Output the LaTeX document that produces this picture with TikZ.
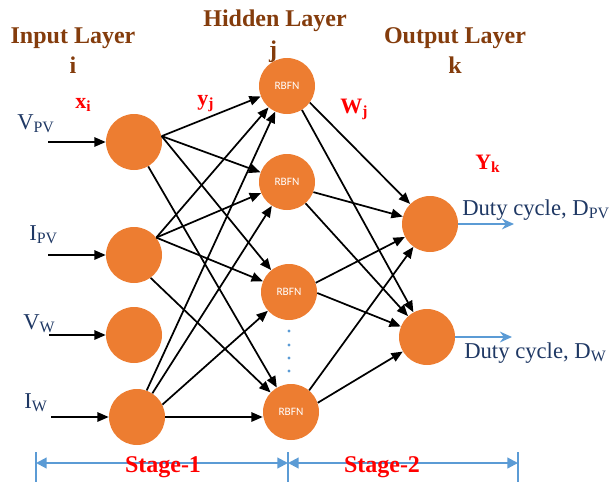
\documentclass[tikz,border=0pt]{standalone}
\usepackage{fontspec}
\setmainfont{Liberation Serif}
\newfontfamily\rbfnfont{Carlito}
\usetikzlibrary{arrows.meta}
\definecolor{norange}{HTML}{ED7D31}
\definecolor{tbrown}{HTML}{843C0C}
\definecolor{tnavy}{HTML}{1F3864}
\definecolor{lblue}{HTML}{5B9BD5}
\definecolor{lred}{HTML}{FF0000}
\begin{document}
\begin{tikzpicture}[x=0.75pt,y=-0.75pt,
  neuron/.style={circle,fill=norange,minimum size=42pt,inner sep=0pt},
  hid/.style={neuron,font=\rbfnfont\fontsize{8.5}{9}\selectfont,text=white},
  arr/.style={-{Triangle[length=8.5pt,width=7pt]},line width=1.3pt,black},
  barr/.style={-{Stealth[length=9pt,width=8pt]},line width=1.6pt,lblue},
  sarr/.style={{Triangle[length=8pt,width=8pt]}-{Triangle[length=8pt,width=8pt]},line width=1.6pt,lblue},
  tick/.style={line width=1.5pt,lblue},
  title/.style={font=\fontsize{18}{20}\selectfont\bfseries,text=tbrown,anchor=base,inner sep=0pt},
  redlab/.style={font=\fontsize{16.5}{18}\selectfont\bfseries,text=lred,anchor=base west,inner sep=0pt},
  navy/.style={font=\fontsize{17}{19}\selectfont,text=tnavy,anchor=base west,inner sep=0pt},
  stagelab/.style={font=\fontsize{18}{20}\selectfont\bfseries,text=lred,anchor=base,inner sep=0pt},
]
\useasboundingbox (0,0) rectangle (616,485);

% titles
\node[title] (tin) at (73,44) {Input Layer};
\node[title] (ti) at (73,73) {i};
\node[title] (thid) at (275,27) {Hidden Layer};
\node[title] (tj) at (273,58) {j};
\node[title] (tout) at (455,44) {Output Layer};
\node[title] (tk) at (455,73) {k};

% red labels
\node[redlab] (lx) at (75,108) {x\textsubscript{i}};
\node[redlab] (ly) at (197,105) {y\textsubscript{j}};
\node[redlab] (lw) at (340,113) {W\textsubscript{j}};
\node[redlab] (lY) at (475,169) {Y\textsubscript{k}};

% input labels
\node[navy] (lvpv) at (17,129) {V\textsubscript{PV}};
\node[navy] (lipv) at (29,240) {I\textsubscript{PV}};
\node[navy] (lvw) at (23,329) {V\textsubscript{W}};
\node[navy] (liw) at (24,408) {I\textsubscript{W}};

% neurons
\node[neuron] (In1) at (134,142) {};
\node[neuron] (In2) at (134,255) {};
\node[neuron] (In3) at (134,335) {};
\node[neuron] (In4) at (137,417) {};
\node[hid] (H1) at (287,86) {RBFN};
\node[hid] (H2) at (287,182) {RBFN};
\node[hid] (H3) at (289,292) {RBFN};
\node[hid] (H4) at (291,412) {RBFN};
\node[neuron] (O1) at (430,224) {};
\node[neuron] (O2) at (427,337) {};

\foreach \yy in {331,345,358,371} \fill[lblue] (289,\yy) circle (1.3pt);

% input arrows
\coordinate (a1) at (48,142);
\coordinate (a2) at (48,255);
\coordinate (a3) at (49,335);
\coordinate (a4) at (51,417);
\draw[arr] (a1) -- (In1);
\draw[arr] (a2) -- (In2);
\draw[arr] (a3) -- (In3);
\draw[arr] (a4) -- (In4);

% stage 1 connections
\draw[arr] (In1.12) -- (H1);
\draw[arr] (In1.12) -- (H2);
\draw[arr] (In1.12) -- (H3);
\draw[arr] (In1) -- (H4);
\draw[arr] (In2.38) -- (H1);
\draw[arr] (In2.38) -- (H2);
\draw[arr] (In2.38) -- (H3);
\draw[arr] (In2.-54) -- (H4);
\draw[arr] (In4.70) -- (H1);
\draw[arr] (In4.57) -- (H2);
\draw[arr] (In4.26) -- (H3);
\draw[arr] (In4.east) -- (In4.east -| H4.west);

% stage 2 connections
\draw[arr] (H1.-36) -- (O1);
\draw[arr] (H1.-58) -- (O2);
\draw[arr] (H2.-21) -- (O1);
\draw[arr] (H2.-49) -- (O2);
\draw[arr] (H3.19) -- (O1);
\draw[arr] (H3.-2) -- (O2);
\draw[arr] (H4.50) -- (O1);
\draw[arr] (H4.19) -- (O2);

% outputs
\coordinate (e1) at (514,224);
\coordinate (e2) at (512,337);
\draw[barr] (O1) -- (e1);
\draw[barr] (O2) -- (e2);
\node[navy] (d1) at (462,215) {Duty cycle, D\textsubscript{PV}};
\node[navy] (d2) at (464,358) {Duty cycle, D\textsubscript{W}};

% stages
\coordinate (t0) at (36,463);
\coordinate (t1) at (288,463);
\coordinate (t2) at (518,463);
\draw[tick] (t0) ++(0,-11) -- ++(0,30);
\draw[tick] (t1) ++(0,-11) -- ++(0,30);
\draw[tick] (t2) ++(0,-11) -- ++(0,30);
\draw[sarr] (t0) -- (t1);
\draw[sarr] (t1) -- (t2);
\node[stagelab] (s1) at (163,472) {Stage-1};
\node[stagelab] (s2) at (382,472) {Stage-2};
\end{tikzpicture}
\end{document}
